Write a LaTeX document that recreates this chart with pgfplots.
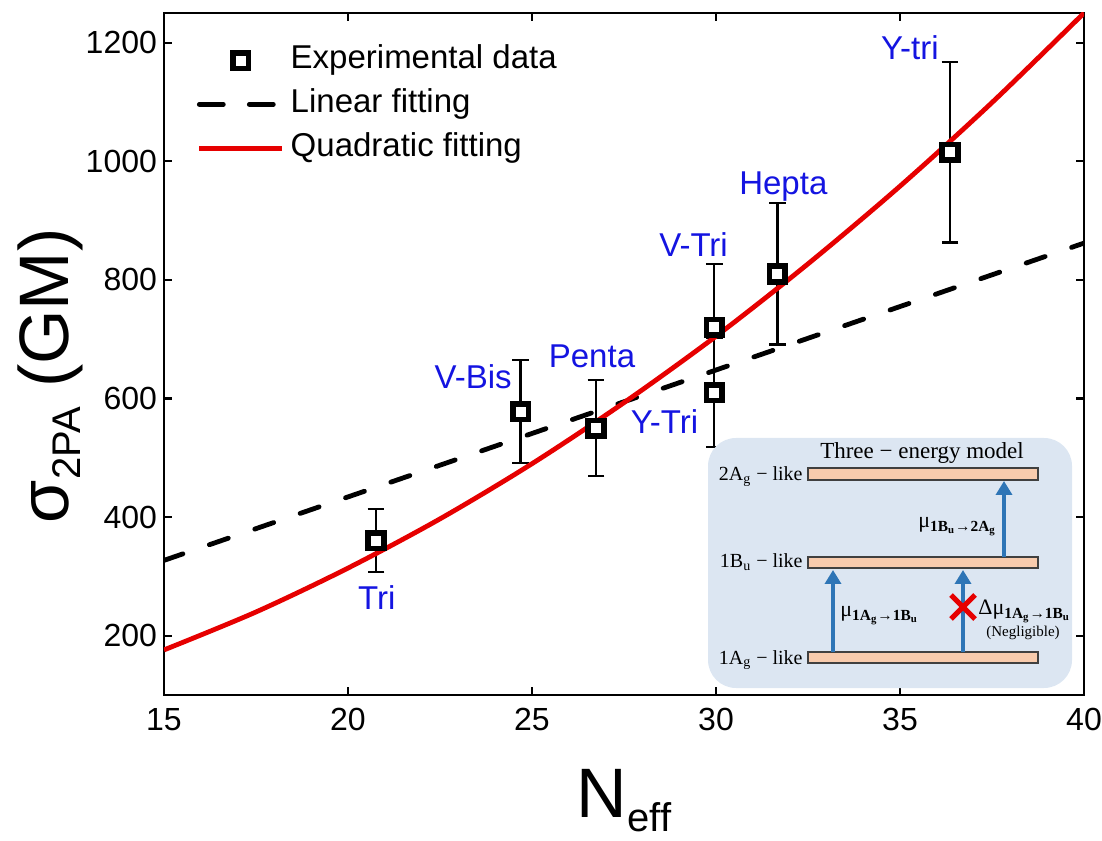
\documentclass[border=0pt]{standalone}
\usepackage{fontspec}
\setmainfont{Liberation Sans}
\newfontfamily\serif{Liberation Serif}
\usepackage{pgfplots}
\pgfplotsset{compat=1.18}
\usepackage{pgfplotstable}
\usetikzlibrary{arrows.meta}
\definecolor{myred}{RGB}{230,0,0}
\definecolor{myblue}{RGB}{20,20,225}
\definecolor{insetbg}{RGB}{220,230,242}
\definecolor{peach}{RGB}{248,203,173}
\definecolor{arrowc}{RGB}{46,117,182}

\pgfplotsset{
 dashleg/.style={legend image code/.code={\draw[##1, dash pattern=on 12pt off 13pt] (0pt,0pt) -- (41.5pt,0pt);}},
 lineleg/.style={legend image code/.code={\draw[##1] (0pt,0pt) -- (41.5pt,0pt);}},
 markleg/.style={legend image code/.code={\draw[mark repeat=2,mark phase=2,##1] plot coordinates {(0pt,0pt) (20.75pt,0pt) (41.5pt,0pt)};}},
}

\pgfplotstableread{
x y e
20.76 360 53
24.69 578 87
26.74 550 81
29.95 610 92
31.67 810 119
36.36 1015 152
}\expdata
\pgfplotstableread{
x y e
29.95 720 107
}\vtri

\begin{document}
\begin{tikzpicture}
\path[use as bounding box] (-82pt,-72.5pt) rectangle (469pt,347.5pt);
\begin{axis}[
 at={(0,0)}, anchor=south west,
 width=460pt, height=341pt, scale only axis,
 xmin=15, xmax=40, ymin=100, ymax=1250,
 xtick={15,20,...,40}, ytick={200,400,...,1200},
 tick align=inside, major tick length=4pt,
 axis line style={line width=1.3pt},
 every tick/.style={line width=1.1pt, black},
 every tick label/.append style={font=\fontsize{16}{16}\selectfont},
 /pgf/number format/assume math mode=true,
 /pgf/number format/1000 sep={},
 xticklabel style={yshift=-3pt},
 xlabel={N\raisebox{-7pt}{\fontsize{20}{20}\selectfont eff}},
 ylabel={σ\raisebox{-6pt}{\fontsize{20}{20}\selectfont 2PA} (GM)},
 xlabel style={font=\fontsize{35}{35}\selectfont, at={(rel axis cs:0.5,-0.1789)}, anchor=base},
 ylabel style={font=\fontsize{35}{35}\selectfont, at={(rel axis cs:-0.104,0.468)}, anchor=base},
 legend style={at={(rel axis cs:0.0358,0.952)}, anchor=north west, draw=none, fill=none,
   inner sep=0pt, outer sep=0pt, row sep=7pt, column sep=3pt,
   font=\fontsize{16.5}{16.5}\selectfont,
   nodes={inner sep=0pt, text height=11.5pt, text depth=3.4pt}},
 legend cell align=left,
]
\addplot[only marks, mark=square*, mark size=3.9pt, markleg,
  mark options={fill=white, draw=black, line width=2.8pt},
  error bars/.cd, y dir=both, y explicit,
  error bar style={line width=1.1pt, black},
  error mark options={rotate=90, mark size=4.2pt, line width=1.1pt, black}]
  table[x=x, y=y, y error=e] {\expdata};
\addlegendentry{Experimental data}
\addplot[only marks, mark=square*, mark size=3.9pt, forget plot,
  mark options={fill=white, draw=black, line width=2.8pt},
  error bars/.cd, y dir=both, y explicit,
  error bar style={line width=1.1pt, black},
  error mark options={rotate=90, mark size=4.2pt, line width=1.1pt, black}]
  table[x=x, y=y, y error=e] {\vtri};
\addplot[black, line width=2.4pt, dash pattern=on 10pt off 14pt, line cap=round, dashleg]
  coordinates {(15,327) (40,862)};
\addlegendentry{Linear fitting}
\addplot[myred, line width=2.4pt, smooth, lineleg]
  coordinates {(15,176) (17.5,240) (20,314) (22.5,397) (25,490) (27.5,593) (30,705) (32.5,827) (35,958) (37.5,1099) (40,1250)};
\addlegendentry{Quadratic fitting}
\begin{scope}[every node/.style={myblue, anchor=base, font=\fontsize{16.5}{16.5}\selectfont}]
\node at (axis cs:20.78,243.7) {Tri};
\node at (axis cs:23.4,616.8) {V-Bis};
\node at (axis cs:26.63,652) {Penta};
\node at (axis cs:28.6,541) {Y-Tri};
\node at (axis cs:29.39,840) {V-Tri};
\node at (axis cs:31.83,944.5) {Hepta};
\node at (axis cs:35.27,1171) {Y-tri};
\end{scope}
\end{axis}
\begin{scope}[x=0.5pt,y=0.5pt, every node/.style={font=\serif\fontsize{10}{10}\selectfont}]
\fill[insetbg, rounded corners=14pt] (544,7) rectangle (908,257);
\node[anchor=base, font=\serif\fontsize{11.5}{11.5}\selectfont] at (758,236) {Three − energy model};
\filldraw[fill=peach, draw=black!75, line width=0.6pt] (644,215) rectangle (874,227);
\filldraw[fill=peach, draw=black!75, line width=0.6pt] (644,127) rectangle (874,138);
\filldraw[fill=peach, draw=black!75, line width=0.6pt] (644,32) rectangle (874,43);
\node[anchor=base east, inner sep=0pt] at (639,214) {2A\textsubscript{g} − like};
\node[anchor=base east, inner sep=0pt] at (639,127) {1B\textsubscript{u} − like};
\node[anchor=base east, inner sep=0pt] at (639,31) {1A\textsubscript{g} − like};
\draw[arrowc, line width=2pt, -{Triangle[width=8pt,length=7pt]}] (669,43) -- (669,125);
\draw[arrowc, line width=2pt, -{Triangle[width=8pt,length=7pt]}] (799,43) -- (799,125);
\draw[arrowc, line width=2pt, -{Triangle[width=8pt,length=7pt]}] (840,138) -- (840,214);
\draw[myred, line width=2.5pt] (787,76) -- (811,100) (787,100) -- (811,76);
\node[anchor=base west, inner sep=0pt] at (676,78) {\fontsize{11}{11}\selectfont μ\textsubscript{\bfseries 1A\textsubscript{g}→1B\textsubscript{u}}};
\node[anchor=base west, inner sep=0pt] at (754,167) {\fontsize{11}{11}\selectfont μ\textsubscript{\bfseries 1B\textsubscript{u}→2A\textsubscript{g}}};
\node[anchor=base west, inner sep=0pt] at (814,80) {\fontsize{11}{11}\selectfont Δμ\textsubscript{\bfseries 1A\textsubscript{g}→1B\textsubscript{u}}};
\node[anchor=base, inner sep=0pt, font=\serif\fontsize{7.5}{7.5}\selectfont] at (859,58) {(Negligible)};
\end{scope}
\end{tikzpicture}
\end{document}
